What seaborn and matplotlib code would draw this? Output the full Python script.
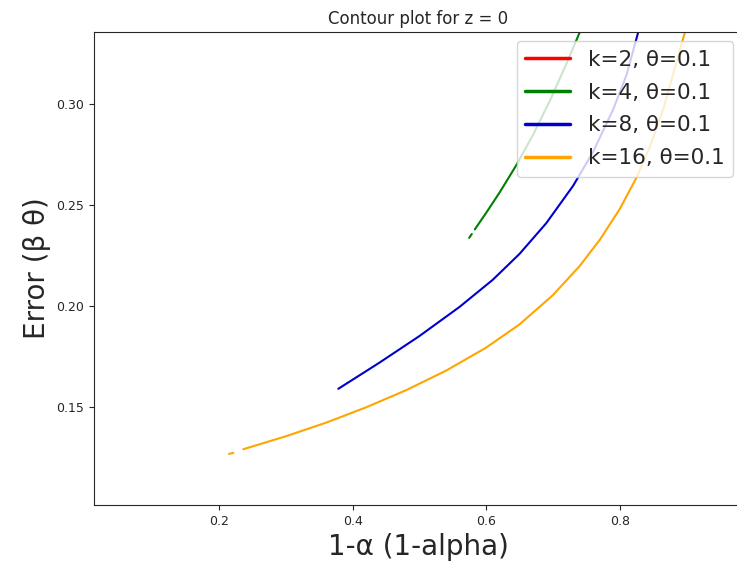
import numpy as np
import pandas as pd
import seaborn as sns
import matplotlib
matplotlib.use("Agg")
import matplotlib.pyplot as plt

# valores (curvas de contorno z = 0)
labels = ["k=2, θ=0.1", "k=4, θ=0.1", "k=8, θ=0.1", "k=16, θ=0.1"]
colors = ["red", "green", "mediumblue", "orange"]

# k=2 fica fora da área visível
k2_x = []
k2_y = []

# k=4 (começa com um pequeno traço separado)
k4_start_x = [0.5745, 0.5785]
k4_start_y = [0.2337, 0.2356]
k4_x = [0.583, 0.600, 0.620, 0.645, 0.670, 0.695, 0.720, 0.7404]
k4_y = [0.2379, 0.2461, 0.2561, 0.2696, 0.2846, 0.3013, 0.3198, 0.3357]

# k=8
k8_x = [0.3786, 0.440, 0.500, 0.560, 0.610, 0.650, 0.690, 0.730, 0.760, 0.790, 0.810, 0.8277]
k8_y = [0.1590, 0.1719, 0.1851, 0.1995, 0.2130, 0.2258, 0.2410, 0.2594, 0.2762, 0.2972, 0.3142, 0.3356]

# k=16 (também começa com um traço separado)
k16_start_x = [0.2150, 0.2215]
k16_start_y = [0.1268, 0.1273]
k16_x = [0.2364, 0.300, 0.360, 0.420, 0.480, 0.540, 0.600, 0.650, 0.700, 0.740, 0.770, 0.800, 0.825, 0.845, 0.865, 0.8976]
k16_y = [0.1291, 0.1355, 0.1422, 0.1498, 0.1583, 0.1680, 0.1794, 0.1909, 0.2054, 0.2198, 0.2327, 0.2480, 0.2635, 0.2787, 0.2973, 0.3356]

sns.set_style("ticks")
plt.rcParams['font.family'] = ['DejaVu Sans']

fig = plt.figure(figsize=(7.37, 5.62), dpi=100)
ax = fig.add_axes([94 / 737, 57 / 562, 648 / 737, 473 / 562])

lw = 1.5
# linha vermelha só para a legenda
ax.plot(k2_x, k2_y, color=colors[0], lw=lw, label=labels[0])
sns.lineplot(x=k4_start_x, y=k4_start_y, color=colors[1], lw=lw, sort=False, estimator=None, ax=ax)
sns.lineplot(x=k4_x, y=k4_y, color=colors[1], lw=lw, sort=False, estimator=None, label=labels[1], ax=ax)
sns.lineplot(x=k8_x, y=k8_y, color=colors[2], lw=lw, sort=False, estimator=None, label=labels[2], ax=ax)
sns.lineplot(x=k16_start_x, y=k16_start_y, color=colors[3], lw=lw, sort=False, estimator=None, ax=ax)
sns.lineplot(x=k16_x, y=k16_y, color=colors[3], lw=lw, sort=False, estimator=None, label=labels[3], ax=ax)

ax.set_xlim(0.0129, 0.983)
ax.set_ylim(0.1015, 0.3356)
ax.set_xticks([0.2, 0.4, 0.6, 0.8])
ax.set_yticks([0.15, 0.20, 0.25, 0.30])
ax.tick_params(labelsize=9)

ax.set_title("Contour plot for z = 0", fontsize=12)
ax.set_xlabel("1-α (1-alpha)", fontsize=20)
ax.set_ylabel("Error (β θ)", fontsize=20)
leg = ax.legend(loc="upper right", fontsize=15.5, labelspacing=0.6, handlelength=2.1,
                borderaxespad=0.42)
for line in leg.get_lines():
    line.set_linewidth(2.5)

fig.savefig("out.png", dpi=100)
